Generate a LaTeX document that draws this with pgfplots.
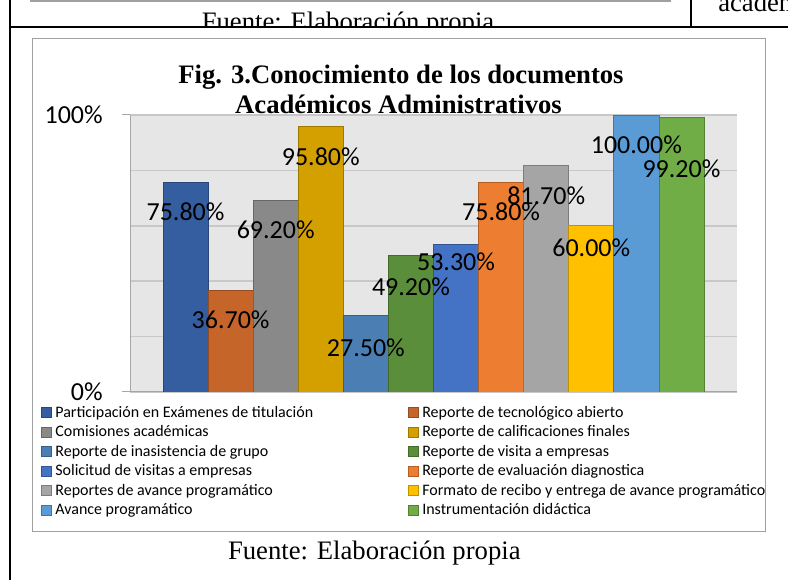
\documentclass[border=0pt]{standalone}
\usepackage{pgfplots}
\pgfplotsset{compat=1.18}
\usepackage{pgfplotstable}
\usepackage{fontspec}
\setmainfont{Liberation Serif}
\newfontfamily\calibri{Carlito}

\definecolor{c1}{RGB}{53,94,161}
\definecolor{c2}{RGB}{197,101,42}
\definecolor{c3}{RGB}{137,137,137}
\definecolor{c4}{RGB}{212,160,0}
\definecolor{c5}{RGB}{75,127,180}
\definecolor{c6}{RGB}{90,142,58}
\definecolor{c7}{RGB}{68,114,196}
\definecolor{c8}{RGB}{237,125,49}
\definecolor{c9}{RGB}{165,165,165}
\definecolor{c10}{RGB}{255,192,0}
\definecolor{c11}{RGB}{91,155,213}
\definecolor{c12}{RGB}{112,173,71}
\definecolor{plotbg}{RGB}{231,230,230}
\definecolor{gridc}{RGB}{200,200,200}
\definecolor{axisc}{RGB}{166,166,166}
\definecolor{boxc}{RGB}{160,160,160}

% value and how far (px) the label sits below the bar top
\pgfplotstableread{
x y off
1 75.8 30
2 36.7 29.3
3 69.2 29.3
4 95.8 30
5 27.5 31.5
6 49.2 31
7 53.3 17.4
8 75.8 29.7
9 81.7 29.7
10 60.0 22.3
11 100.0 30
12 99.2 52
}\labels

\pgfplotsset{sqbar/.style={fill=#1,draw=#1!75!black,line width=0.6pt,bar shift=0pt,
  legend image code/.code={\draw[fill=#1,draw=#1!75!black,line width=0.5pt] (0pt,-3.75pt) rectangle (7.5pt,3.75pt);}}}

\begin{document}
\begin{tikzpicture}
\begin{scope}[x=0.75pt,y=0.75pt]
 \clip (0,0) rectangle (788,580);
 \fill[white] (0,0) rectangle (788,580);
 % what is left of the table above
 \begin{scope}
  \clip (0,552.5) rectangle (788,580);
  \node[anchor=base,font=\fontsize{20}{24}\selectfont,inner sep=0pt] at (348,549) {Fuente: Elaboración propia};
 \end{scope}
 \node[anchor=base west,font=\fontsize{20}{24}\selectfont,inner sep=0pt] at (718,568) {académicos};
 \draw[boxc,line width=1.5pt] (30,578.5) -- (670,578.5) -- (670,580);
 \draw[line width=1.5pt] (690.7,580) -- (690.7,552.5);
 \draw[line width=1.5pt] (10,552.5) -- (788,552.5);
 \draw[line width=1.5pt] (10,0) -- (10,580);
 % chart box
 \draw[boxc,fill=white,line width=0.75pt] (32,541.7) rectangle (765.7,48.3);
 \node[anchor=base,font=\fontsize{20}{24}\selectfont,inner sep=0pt] at (374.3,20.7) {Fuente: Elaboración propia};
\end{scope}

\begin{axis}[
  at={(97.5pt,141pt)},anchor=south west,
  scale only axis,width=455.25pt,height=207.75pt,
  xmin=-0.232,xmax=13.232,ymin=0,ymax=100,
  axis background/.style={fill=plotbg},
  axis x line*=bottom,axis y line*=left,
  axis line style={draw=axisc,line width=0.75pt},
  xtick=\empty,
  ytick={0,100},yticklabels={0\%,100\%},
  minor ytick={20,40,60,80},
  ymajorgrids,yminorgrids,
  major grid style={draw=gridc,line width=1.1pt},
  minor grid style={draw=gridc,line width=1.1pt},
  tick align=outside,major tick length=6pt,minor tick length=0pt,
  major tick style={draw=axisc,line width=0.75pt},
  yticklabel style={font=\calibri\fontsize{19.5}{23}\selectfont,inner sep=0pt,anchor=east,xshift=-14.25pt},
  ybar,bar width=1,
  legend columns=2,
  legend cell align=left,
  legend style={at={(-0.1471,-0.0514)},anchor=north west,draw=none,fill=none,
    inner sep=0pt,outer sep=0pt,column sep=3pt,row sep=4.8pt,
    font=\calibri\fontsize{12}{14.625}\selectfont,
    nodes={inner sep=0pt,outer sep=0pt}},
]
\addplot[sqbar=c1] coordinates {(1,75.8)};
\addlegendentry{\makebox[261.2pt][l]{Participación en Exámenes de titulación}}
\addplot[sqbar=c2] coordinates {(2,36.7)};
\addlegendentry{Reporte de tecnológico abierto}
\addplot[sqbar=c3] coordinates {(3,69.2)};
\addlegendentry{\makebox[261.2pt][l]{Comisiones académicas}}
\addplot[sqbar=c4] coordinates {(4,95.8)};
\addlegendentry{Reporte de calificaciones finales}
\addplot[sqbar=c5] coordinates {(5,27.5)};
\addlegendentry{\makebox[261.2pt][l]{Reporte de inasistencia de grupo}}
\addplot[sqbar=c6] coordinates {(6,49.2)};
\addlegendentry{Reporte de visita a empresas}
\addplot[sqbar=c7] coordinates {(7,53.3)};
\addlegendentry{\makebox[261.2pt][l]{Solicitud de visitas a empresas}}
\addplot[sqbar=c8] coordinates {(8,75.8)};
\addlegendentry{Reporte de evaluación diagnostica}
\addplot[sqbar=c9] coordinates {(9,81.7)};
\addlegendentry{\makebox[261.2pt][l]{Reportes de avance programático}}
\addplot[sqbar=c10] coordinates {(10,60.0)};
\addlegendentry{Formato de recibo y entrega de avance programático}
\addplot[sqbar=c11] coordinates {(11,100.0)};
\addlegendentry{\makebox[261.2pt][l]{Avance programático}}
\addplot[sqbar=c12] coordinates {(12,99.2)};
\addlegendentry{Instrumentación didáctica}
% data labels on top of all bars
\addplot[forget plot,draw=none,fill=none,bar shift=0pt,point meta=y,
  nodes near coords={\pgfmathprintnumber[fixed,fixed zerofill,precision=2,assume math mode=true]{\pgfplotspointmeta}\%},
  visualization depends on={\thisrow{off}\as\off},
  every node near coord/.append style={font=\calibri\fontsize{19.5}{23}\selectfont,black,inner sep=0pt,anchor=center,yshift={-\off*0.75pt}}]
  table[x=x,y=y]{\labels};
\end{axis}

\begin{scope}[x=0.75pt,y=0.75pt]
 \node[anchor=base,font=\bfseries\fontsize{20}{24}\selectfont,inner sep=0pt] at (401,496.7) {Fig. 3.Conocimiento de los documentos};
 \node[anchor=base,font=\bfseries\fontsize{20}{24}\selectfont,inner sep=0pt] at (398.5,466.7) {Académicos Administrativos};
\end{scope}
\end{tikzpicture}
\end{document}
